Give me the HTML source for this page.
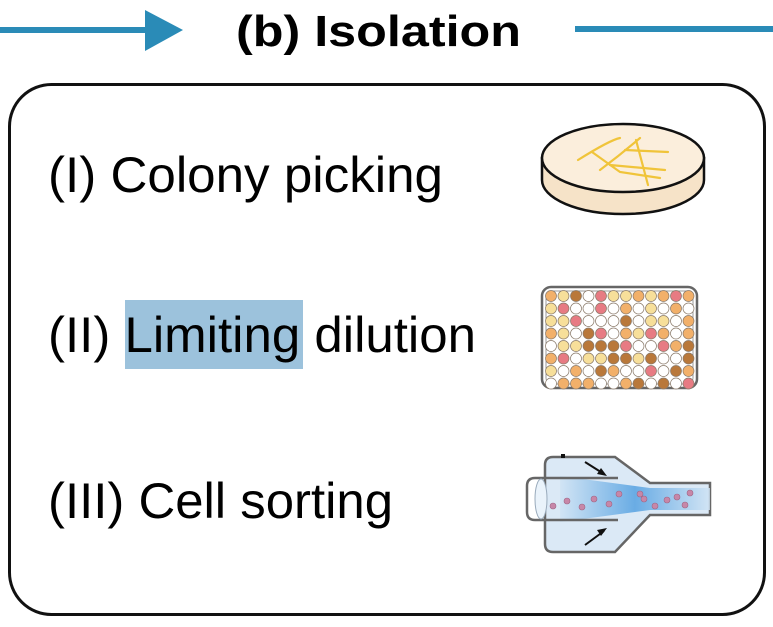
<!DOCTYPE html>
<html><head><meta charset="utf-8"><style>
html,body{margin:0;padding:0;background:#fff;}
svg{display:block;}
text{font-family:"Liberation Sans",sans-serif;}
</style></head><body>
<svg width="773" height="627" viewBox="0 0 773 627">
  <g>
    <rect x="0" y="27" width="148" height="6" fill="#2a8bb7"/>
    <polygon points="145,10 183,30 145,51" fill="#2a8bb7"/>
    <text x="236" y="46" font-size="44" font-weight="bold" textLength="285" lengthAdjust="spacingAndGlyphs">(b) Isolation</text>
    <rect x="575" y="26" width="198" height="6" fill="#2a8bb7"/>
  </g>
  <rect x="9.5" y="84.5" width="755" height="530" rx="42" ry="42" fill="#fff" stroke="#111" stroke-width="3"/>

  <text x="48" y="192" font-size="50" textLength="395" lengthAdjust="spacingAndGlyphs">(I) Colony picking</text>
  <rect x="125" y="300" width="178" height="69" fill="#9cc2dc"/>
  <text x="48" y="352" font-size="50" textLength="428" lengthAdjust="spacingAndGlyphs">(II) Limiting dilution</text>
  <text x="48" y="518" font-size="50" textLength="345" lengthAdjust="spacingAndGlyphs">(III) Cell sorting</text>

  <g>
    <path d="M542,158 L542,180 A81,34 0 0 0 704,180 L704,158 Z" fill="#f6e3c8" stroke="#111" stroke-width="2.5"/>
    <ellipse cx="623" cy="158" rx="81" ry="34" fill="#fbeedc" stroke="#111" stroke-width="2.5"/>
    <g stroke="#f0c43a" stroke-width="2.2" fill="none" stroke-linecap="round">
      <path d="M578,160 Q610,140 620,138"/>
      <path d="M592,152 L620,172 L660,178"/>
      <path d="M600,170 Q620,155 640,138"/>
      <path d="M636,140 L648,185"/>
      <path d="M625,150 L668,152"/>
      <path d="M610,165 L665,170"/>
    </g>
  </g>

  <g>
    <rect x="542" y="287" width="155" height="101" rx="9" fill="#fff" stroke="#666" stroke-width="2.5"/>
    <rect x="546" y="291" width="147" height="93" rx="6" fill="none" stroke="#999" stroke-width="1"/>
    <g id="wells"></g>
  </g>

  <g>
    <defs>
      <linearGradient id="flow" x1="0" x2="1" y1="0" y2="0">
        <stop offset="0" stop-color="#cfe3f4"/>
        <stop offset="0.5" stop-color="#4d9de0"/>
        <stop offset="1" stop-color="#cfe3f4"/>
      </linearGradient>
    </defs>
    <path d="M553,457 L615,457 L650,483 L710,483 L710,515 L650,515 L615,552 L553,552 Q545,552 545,544 L545,465 Q545,457 553,457 Z" fill="#dbe9f6" stroke="#666" stroke-width="2.5"/>
    <path d="M560,476 L650,488 L710,488 L710,510 L650,510 L560,522 Z" fill="url(#flow)" opacity="0.8"/>
    <path d="M618,478 L535,478 Q527,478 527,486 L527,512 Q527,520 535,520 L618,520" fill="none" stroke="#666" stroke-width="2.5"/>
    <ellipse cx="541" cy="499" rx="6" ry="20" fill="#eaf3fb" stroke="#9ab" stroke-width="1"/>
    <g fill="#c787a8" stroke="#a06585" stroke-width="0.6" id="cells"></g>
    <line x1="585" y1="462" x2="604" y2="474" stroke="#111" stroke-width="2"/>
    <polygon points="607,476 597,474 601,468" fill="#111"/>
    <line x1="585" y1="545" x2="604" y2="531" stroke="#111" stroke-width="2"/>
    <polygon points="607,528 597,530 601,536" fill="#111"/>
    <rect x="561" y="454" width="4" height="4" fill="#111"/>
  </g>
</svg>
<script>
const wellRows = [
 "OYBWPYYOYOPO",
 "YPWWPWOWYWOW",
 "YYPWWWBWYYWO",
 "OYWBPWOYPOWO",
 "WYYBBBPWWPOB",
 "OPWYYBBYBWWB",
 "YWOWBOWWPWBO",
 "WOOOWWOBWBWP"
];
const wellColors = {O:"#f2b06a",Y:"#f7df9a",B:"#b9783a",P:"#e77b83",W:"#ffffff"};
const g = document.getElementById('wells');
const NS = "http://www.w3.org/2000/svg";
wellRows.forEach((row, r) => {
  row.split('').forEach((c, k) => {
    const el = document.createElementNS(NS, 'circle');
    el.setAttribute('cx', 551 + k * 12.5);
    el.setAttribute('cy', 296 + r * 12.5);
    el.setAttribute('r', 5.5);
    el.setAttribute('fill', wellColors[c]);
    el.setAttribute('stroke', '#8a7a6a');
    el.setAttribute('stroke-width', '0.7');
    
    
    g.appendChild(el);
  });
});
const cellX = [553,567,582,594,609,619,644,655,640,667,677,685,690];
const cellY = [506,501,507,499,504,494,499,506,494,500,497,505,493];
const cg = document.getElementById('cells');
cellX.forEach((x, i) => {
  const el = document.createElementNS(NS, 'circle');
  el.setAttribute('cx', x);
  el.setAttribute('cy', cellY[i]);
  el.setAttribute('r', 3);
  
  
  cg.appendChild(el);
});
</script>
</body></html>
